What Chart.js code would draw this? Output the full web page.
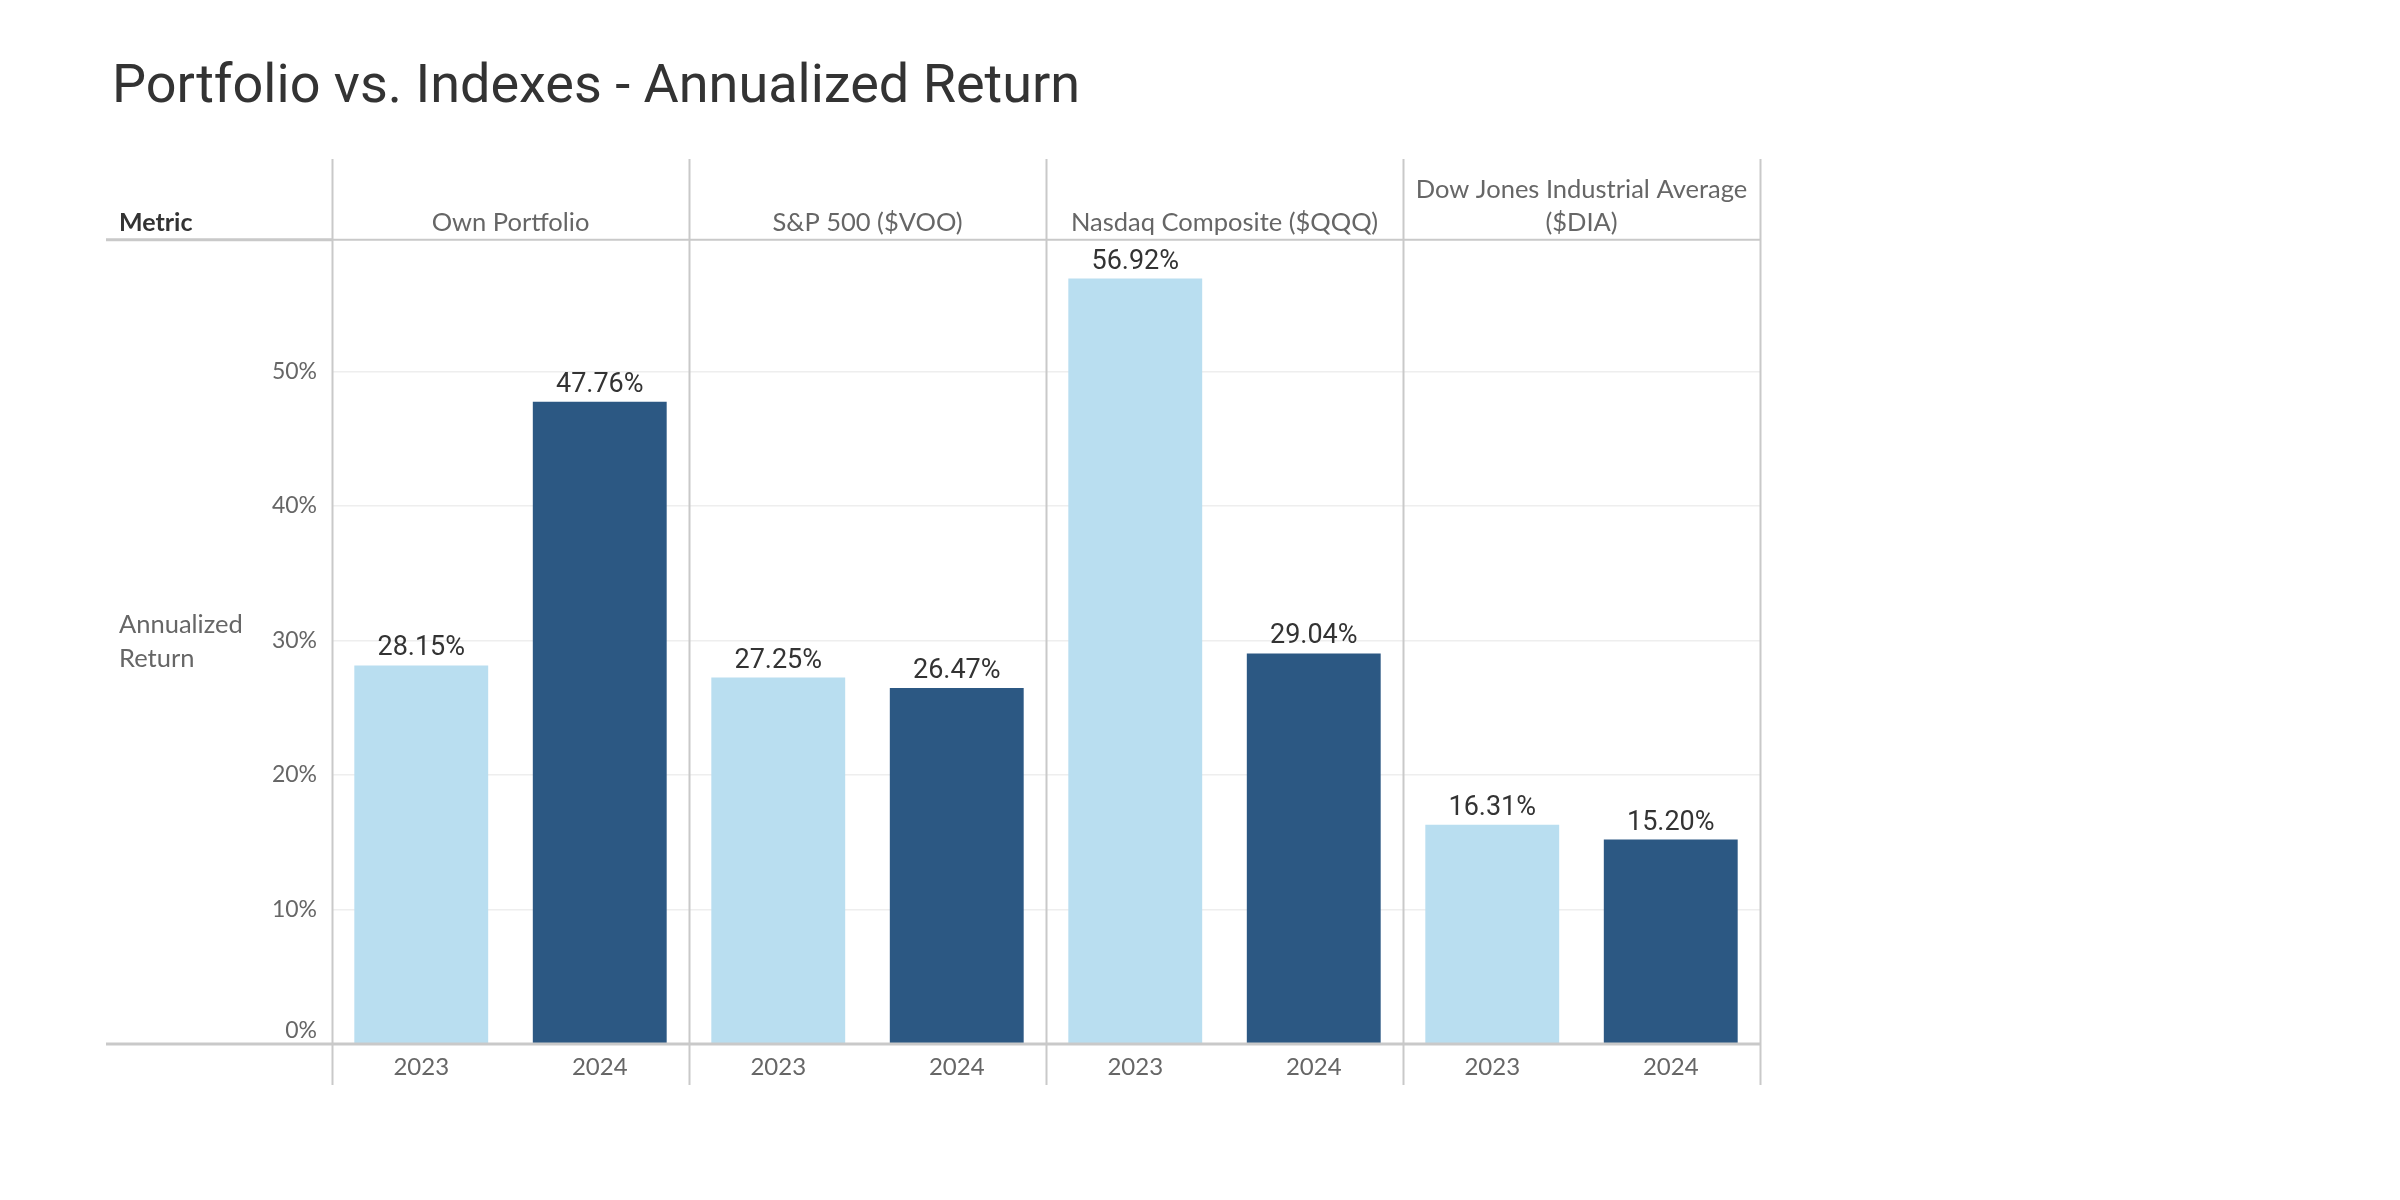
<!DOCTYPE html>
<html>
<head>
<meta charset="utf-8">
<script src="https://cdn.jsdelivr.net/npm/chart.js@4.4.1/dist/chart.umd.min.js"></script>
<style>
  html, body { margin: 0; padding: 0; background: #ffffff; }
  #wrap { width: 2400px; height: 1200px; position: relative; }
</style>
</head>
<body>
<div id="wrap"><canvas id="c" width="2400" height="1200"></canvas></div>
<script>
// ---- data ----
const titleText = 'Portfolio vs. Indexes - Annualized Return';
const panelNames = ['Own Portfolio', 'S&P 500 ($VOO)', 'Nasdaq Composite ($QQQ)', ['Dow Jones Industrial Average', '($DIA)']];
const years = ['2023', '2024'];
const return2023 = [28.15, 27.25, 56.92, 16.31];
const return2024 = [47.76, 26.47, 29.04, 15.20];
const rowHeader = 'Metric';
const measureName = ['Annualized', 'Return'];
const yTickValues = [0, 10, 20, 30, 40, 50];
const yMax = 59.8;

const colorByYear = { '2023': '#b9def0', '2024': '#2c5883' };

// build category list (panel x year)
const labels = [];
const values = [];
const colors = [];
panelNames.forEach((p, i) => {
  labels.push(years[0]); values.push(return2023[i]); colors.push(colorByYear[years[0]]);
  labels.push(years[1]); values.push(return2024[i]); colors.push(colorByYear[years[1]]);
});

const LINE = '#c9c9c9';
const FONT_UI = 'Lato, "Open Sans", sans-serif';
const FONT_NUM = 'Roboto, Inter, sans-serif';

const framePlugin = {
  id: 'frame',
  afterDraw(chart) {
    const ctx = chart.ctx;
    const ca = chart.chartArea;
    const x = chart.scales.x;
    const meta = chart.getDatasetMeta(0);
    const leftEdge = 106;
    const topEdge = 159;
    const bottomEdge = 1085;
    ctx.save();

    // header bottom line
    ctx.strokeStyle = LINE;
    ctx.lineWidth = 3;
    ctx.beginPath(); ctx.moveTo(leftEdge, ca.top); ctx.lineTo(ca.left, ca.top); ctx.stroke();
    ctx.lineWidth = 2;
    ctx.beginPath(); ctx.moveTo(ca.left, ca.top); ctx.lineTo(ca.right, ca.top); ctx.stroke();
    // zero / bottom axis line
    ctx.lineWidth = 3;
    ctx.beginPath(); ctx.moveTo(leftEdge, ca.bottom); ctx.lineTo(ca.right, ca.bottom); ctx.stroke();

    // panel separators
    ctx.lineWidth = 2;
    const n = panelNames.length;
    for (let i = 0; i <= n; i++) {
      let px;
      if (i === 0) px = ca.left;
      else if (i === n) px = ca.right;
      else px = (x.getPixelForValue(2 * i - 1) + x.getPixelForValue(2 * i)) / 2;
      ctx.beginPath(); ctx.moveTo(Math.round(px) + 0.5, topEdge); ctx.lineTo(Math.round(px) + 0.5, bottomEdge); ctx.stroke();
    }

    // panel headers
    ctx.fillStyle = '#666666';
    ctx.font = '25.5px ' + FONT_UI;
    ctx.textAlign = 'center';
    ctx.textBaseline = 'middle';
    panelNames.forEach((p, i) => {
      const cx = (x.getPixelForValue(2 * i) + x.getPixelForValue(2 * i + 1)) / 2;
      if (Array.isArray(p)) {
        ctx.fillText(p[0], cx, 190);
        ctx.fillText(p[1], cx, 223);
      } else {
        ctx.fillText(p, cx, 223);
      }
    });

    // row header
    ctx.textAlign = 'left';
    ctx.fillStyle = '#333333';
    ctx.font = '700 25px ' + FONT_UI;
    ctx.fillText(rowHeader, 119, 223);

    // measure name
    ctx.fillStyle = '#666666';
    ctx.font = '25.5px ' + FONT_UI;
    ctx.fillText(measureName[0], 119, 625);
    ctx.fillText(measureName[1], 119, 659);

    // value labels
    ctx.fillStyle = '#333333';
    ctx.font = '27px ' + FONT_NUM;
    ctx.textAlign = 'center';
    ctx.textBaseline = 'alphabetic';
    meta.data.forEach((bar, i) => {
      ctx.fillText(values[i].toFixed(2) + '%', bar.x, bar.y - 10);
    });
    ctx.restore();
  }
};

new Chart(document.getElementById('c'), {
  type: 'bar',
  data: {
    labels: labels,
    datasets: [{
      data: values,
      backgroundColor: colors,
      borderWidth: 0,
      barPercentage: 0.75,
      categoryPercentage: 1.0
    }]
  },
  options: {
    responsive: false,
    animation: false,
    devicePixelRatio: 1,
    layout: { padding: { left: 112, right: 640, top: 0, bottom: 106 } },
    plugins: {
      legend: { display: false },
      tooltip: { enabled: false },
      title: {
        display: true,
        text: titleText,
        align: 'start',
        color: '#333333',
        font: { family: 'Roboto, sans-serif', size: 54, weight: '400', lineHeight: 1.2 },
        padding: { top: 56, bottom: 119 }
      }
    },
    scales: {
      x: {
        type: 'category',
        grid: { display: false, drawTicks: false },
        border: { display: false },
        ticks: { color: '#666666', font: { family: FONT_UI, size: 24 }, padding: 9, maxRotation: 0 },
        afterFit(scale) { scale.height = 50; }
      },
      y: {
        min: 0,
        max: yMax,
        grid: { color: '#eeeeee', lineWidth: 1.5, drawTicks: false },
        border: { display: false },
        afterBuildTicks(scale) { scale.ticks = yTickValues.map(v => ({ value: v })); },
        ticks: {
          color: '#666666',
          font: { family: FONT_UI, size: 23 },
          padding: 15,
          callback: (v) => (v === 0 ? ['0%', ''] : v + '%')
        },
        afterFit(scale) { scale.width = 220; }
      }
    }
  },
  plugins: [framePlugin]
});
</script>
</body>
</html>
